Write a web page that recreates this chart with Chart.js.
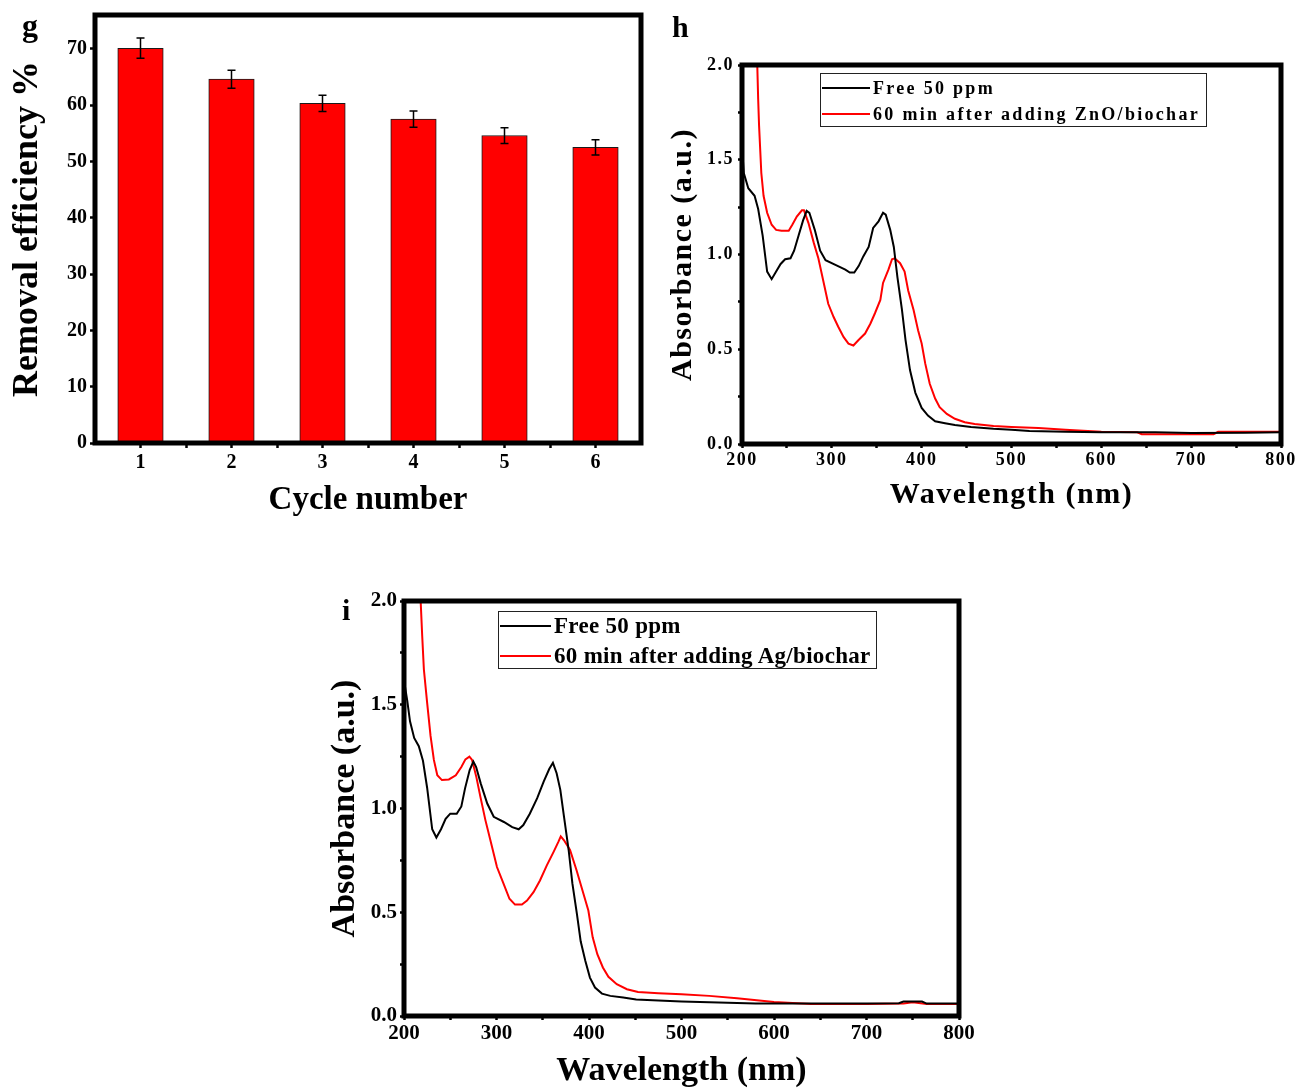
<!DOCTYPE html>
<html><head><meta charset="utf-8">
<script src="https://cdn.jsdelivr.net/npm/chart.js@4.4.1/dist/chart.umd.min.js"></script>
<style>
html,body{margin:0;padding:0;background:#fff;width:1300px;height:1088px;overflow:hidden;position:relative;font-family:"Liberation Serif","Times New Roman",serif;}
canvas{position:absolute;}
.lbl{position:absolute;font-weight:bold;line-height:1;color:#000;font-family:"Liberation Serif",serif;}
.lgbox{position:absolute;border:1px solid #222;box-sizing:border-box;background:#fff;}
.lgrow{position:absolute;display:flex;align-items:center;white-space:nowrap;font-weight:bold;color:#000;font-family:"Liberation Serif",serif;}
.lgsw{display:inline-block;height:2px;}
</style></head><body>
<canvas id="cg" width="660" height="530" style="left:0;top:0"></canvas>
<canvas id="ch" width="640" height="530" style="left:660px;top:0"></canvas>
<canvas id="ci" width="680" height="528" style="left:320px;top:560px"></canvas>
<div class="lbl" style="left:22px;top:9px;font-size:32px">g</div>
<div class="lbl" style="left:672px;top:12px;font-size:30px">h</div>
<div class="lbl" style="left:342px;top:595px;font-size:30px">i</div>
<script>
// ---------- panel g data ----------
const cycles = [1, 2, 3, 4, 5, 6];
const removalEfficiency = [70.1, 64.6, 60.3, 57.5, 54.6, 52.5];
const removalError = [1.8, 1.6, 1.45, 1.45, 1.4, 1.35];
const cycleTickValues = [1, 1.5, 2, 2.5, 3, 3.5, 4, 4.5, 5, 5.5, 6];
const cycleTickLabels = ['1', '', '2', '', '3', '', '4', '', '5', '', '6'];
const effTickValues = [0, 10, 20, 30, 40, 50, 60, 70];
const effTickLabels = ['0', '10', '20', '30', '40', '50', '60', '70'];

// ---------- shared spectrum ticks ----------
const waveTickValues = [200, 250, 300, 350, 400, 450, 500, 550, 600, 650, 700, 750, 800];
const waveTickLabels = ['200', '', '300', '', '400', '', '500', '', '600', '', '700', '', '800'];
const absTickValues = [0, 0.25, 0.5, 0.75, 1.0, 1.25, 1.5, 1.75, 2.0];
const absTickLabels = ['0.0', '', '0.5', '', '1.0', '', '1.5', '', '2.0'];

// ---------- panel h data ----------
const hSeriesLabels = ['Free 50 ppm', '60 min after adding ZnO/biochar'];
const hFreeWave = [200,202,207,214,218,223,228,233,238,243,248,254,258,263,268,272,275,281,287,293,304,315,320,325,330,335,341,346,352,357,360,365,369,373,378,382,387,393,400,407,415,426,437,455,480,500,520,560,600,660,700,760,800];
const hFreeAbs = [1.57,1.43,1.35,1.31,1.24,1.10,0.91,0.87,0.91,0.95,0.975,0.98,1.02,1.10,1.18,1.23,1.22,1.13,1.02,0.97,0.945,0.92,0.905,0.905,0.94,0.99,1.04,1.14,1.175,1.22,1.21,1.13,1.04,0.88,0.71,0.55,0.39,0.27,0.19,0.15,0.12,0.11,0.10,0.09,0.08,0.075,0.068,0.065,0.062,0.062,0.058,0.06,0.062];
const hZnOWave = [217,218,219,221.5,224,228,233,238,244,252,256,261,266.7,269,274,280,285,291,296,302,307,313,318.5,324,330,337,343,348,354,357,363,367,370,376,381,385,391,396,400,404,409,415,420,428,437,448,459,480,500,530,560,600,640,645,725,730,800];
const hZnOAbs = [2.0,1.82,1.68,1.43,1.31,1.22,1.157,1.13,1.125,1.125,1.157,1.20,1.233,1.233,1.166,1.06,0.98,0.85,0.74,0.67,0.62,0.565,0.53,0.52,0.55,0.583,0.636,0.69,0.76,0.85,0.92,0.975,0.98,0.954,0.91,0.81,0.707,0.60,0.53,0.424,0.318,0.24,0.194,0.159,0.133,0.115,0.106,0.095,0.09,0.085,0.075,0.065,0.062,0.052,0.052,0.064,0.064];

// ---------- panel i data ----------
const iSeriesLabels = ['Free 50 ppm', '60 min after adding Ag/biochar'];
const iFreeWave = [201,203.5,206.5,211,216,220.5,225,230.5,235,240,245,250,257,262,266,271,275,278,283,290,297,308,317,324,329,336,344,351,357,361,365,369,373,378,382,387,391,396,401,406.5,414,423,437,451,475,500,540,580,620,700,735,740,760,765,800];
const iFreeAbs = [1.59,1.52,1.42,1.34,1.30,1.23,1.10,0.90,0.86,0.90,0.95,0.975,0.975,1.01,1.097,1.185,1.226,1.20,1.12,1.024,0.96,0.935,0.91,0.90,0.92,0.975,1.05,1.13,1.19,1.22,1.17,1.09,0.96,0.80,0.64,0.49,0.36,0.266,0.185,0.137,0.108,0.097,0.089,0.08,0.075,0.07,0.065,0.06,0.06,0.06,0.062,0.07,0.07,0.06,0.06];
const iAgWave = [218,219.7,221.5,225,228.7,232.3,236,241,248.5,256,262,266.4,270.7,273.6,278.3,282.6,288,293.4,300.5,307.7,314,320,327.5,333,340,347,354.4,361.6,367,369.5,373,379.5,386.7,394,399.3,404,409,415,421,430,441,453,475,500,530,560,600,640,700,740,750,765,800];
const iAgAbs = [2.0,1.83,1.67,1.51,1.35,1.234,1.16,1.137,1.14,1.16,1.20,1.237,1.25,1.234,1.15,1.056,0.944,0.847,0.718,0.637,0.565,0.537,0.537,0.556,0.597,0.653,0.726,0.79,0.84,0.866,0.847,0.80,0.70,0.589,0.508,0.379,0.298,0.234,0.189,0.153,0.129,0.116,0.11,0.105,0.097,0.085,0.068,0.058,0.058,0.06,0.066,0.058,0.058];

const SERIF = '"Liberation Serif", "Times New Roman", serif';
const BLACK = '#000000', RED = '#ff0000';

const framePlugin = {
  id: 'frame',
  afterDatasetsDraw(chart) {
    const {ctx, chartArea: a} = chart;
    ctx.save();
    ctx.lineWidth = 5;
    ctx.strokeStyle = '#000';
    ctx.strokeRect(a.left, a.top, a.right - a.left, a.bottom - a.top);
    ctx.restore();
  }
};

function spacingPlugin(px) {
  return { id: 'spacing', beforeDraw(chart) { try { chart.ctx.letterSpacing = px; } catch (e) {} } };
}

const errorBarPlugin = {
  id: 'errbars',
  afterDatasetsDraw(chart) {
    const {ctx, scales: {x, y}} = chart;
    ctx.save();
    ctx.strokeStyle = '#000';
    ctx.lineWidth = 1.5;
    cycles.forEach((c, i) => {
      const px = x.getPixelForValue(c);
      const top = y.getPixelForValue(removalEfficiency[i] + removalError[i]);
      const bot = y.getPixelForValue(removalEfficiency[i] - removalError[i]);
      ctx.beginPath();
      ctx.moveTo(px, top); ctx.lineTo(px, bot);
      ctx.moveTo(px - 4, top); ctx.lineTo(px + 4, top);
      ctx.moveTo(px - 4, bot); ctx.lineTo(px + 4, bot);
      ctx.stroke();
    });
    ctx.restore();
  }
};

function tickGrid(len) {
  return { drawOnChartArea: false, drawTicks: true, tickLength: len, tickWidth: 2.5, tickColor: '#000', color: '#000', offset: false };
}

// ---------- chart g ----------
new Chart(document.getElementById('cg'), {
  type: 'bar',
  data: {
    datasets: [{
      label: 'Removal efficiency',
      data: cycles.map((c, i) => ({x: c, y: removalEfficiency[i]})),
      backgroundColor: RED,
      borderColor: '#1a1a1a',
      borderWidth: 1,
      categoryPercentage: 1,
      barPercentage: 1
    }]
  },
  options: {
    responsive: false, animation: false, events: [],
    layout: {padding: {top: 14, right: 19, left: 0, bottom: 0}},
    plugins: {legend: {display: false}, tooltip: {enabled: false}},
    scales: {
      x: {
        type: 'linear', min: 0.5, max: 6.5, offset: false,
        afterBuildTicks: s => { s.ticks = cycleTickValues.map(v => ({value: v})); },
        afterFit: s => { s.height = 87; },
        ticks: {callback: (v, i) => cycleTickLabels[i], autoSkip: false, maxRotation: 0, color: '#000', padding: 3, font: {family: SERIF, size: 20, weight: 'bold'}},
        grid: tickGrid(5), border: {display: false},
        title: {display: true, text: 'Cycle number', color: '#000', font: {family: SERIF, size: 33, weight: 'bold', lineHeight: 1}, padding: {top: 0, bottom: 13}}
      },
      y: {
        type: 'linear', min: 0, max: 76,
        afterBuildTicks: s => { s.ticks = effTickValues.map(v => ({value: v})); },
        afterFit: s => { s.width = 95; },
        ticks: {callback: (v, i) => effTickLabels[i], autoSkip: false, color: '#000', padding: 3, font: {family: SERIF, size: 20, weight: 'bold'}},
        grid: tickGrid(5), border: {display: false},
        title: {display: true, text: 'Removal efficiency %', color: '#000', font: {family: SERIF, size: 36, weight: 'bold', lineHeight: 1}, padding: {top: 10, bottom: 0}}
      }
    }
  },
  plugins: [errorBarPlugin, framePlugin]
});

// ---------- spectrum charts ----------
function spectrumChart(id, g) {
  return new Chart(document.getElementById(id), {
    type: 'line',
    data: {
      datasets: [
        {label: g.labels[0], data: g.x1.map((x, i) => ({x, y: g.y1[i]})), borderColor: BLACK, borderWidth: 2, pointRadius: 0, tension: 0, fill: false},
        {label: g.labels[1], data: g.x2.map((x, i) => ({x, y: g.y2[i]})), borderColor: RED, borderWidth: 2, pointRadius: 0, tension: 0, fill: false}
      ]
    },
    options: {
      responsive: false, animation: false, events: [],
      layout: {padding: {top: g.padTop, right: g.padRight, left: 0, bottom: 0}},
      plugins: {legend: {display: false}, tooltip: {enabled: false}},
      scales: {
        x: {
          type: 'linear', min: 200, max: 800,
          afterBuildTicks: s => { s.ticks = waveTickValues.map(v => ({value: v})); },
          afterFit: s => { s.height = g.xH; },
          ticks: {callback: (v, i) => waveTickLabels[i], autoSkip: false, maxRotation: 0, color: '#000', padding: g.xTickPad, font: {family: SERIF, size: g.tickSize, weight: 'bold'}},
          grid: tickGrid(4), border: {display: false},
          title: {display: true, text: 'Wavelength (nm)', color: '#000', font: {family: SERIF, size: g.titleSize, weight: 'bold', lineHeight: 1}, padding: {top: 0, bottom: g.xTitlePad}}
        },
        y: {
          type: 'linear', min: 0, max: 2,
          afterBuildTicks: s => { s.ticks = absTickValues.map(v => ({value: v})); },
          afterFit: s => { s.width = g.yW; },
          ticks: {callback: (v, i) => absTickLabels[i], autoSkip: false, color: '#000', padding: g.yTickPad, font: {family: SERIF, size: g.tickSize, weight: 'bold'}},
          grid: tickGrid(4), border: {display: false},
          title: {display: true, text: 'Absorbance (a.u.)', color: '#000', font: {family: SERIF, size: g.titleSize, weight: 'bold', lineHeight: 1}, padding: {top: g.yTitlePad, bottom: 0}}
        }
      }
    },
    plugins: [spacingPlugin(g.spacing), framePlugin]
  });
}

spectrumChart('ch', {
  labels: hSeriesLabels, x1: hFreeWave, y1: hFreeAbs, x2: hZnOWave, y2: hZnOAbs,
  padTop: 65, padRight: 19, xH: 86, yW: 82, tickSize: 18, titleSize: 30,
  xTickPad: 2, yTickPad: 4, xTitlePad: 20, yTitlePad: 8, spacing: '1.5px'
});
spectrumChart('ci', {
  labels: iSeriesLabels, x1: iFreeWave, y1: iFreeAbs, x2: iAgWave, y2: iAgAbs,
  padTop: 41, padRight: 41, xH: 72, yW: 84, tickSize: 21, titleSize: 34,
  xTickPad: 1, yTickPad: 3, xTitlePad: 0, yTitlePad: 8, spacing: '0px'
});

// ---------- HTML legends built from series labels ----------
function legend(labels, colors, box, rows, sw, font, spacing) {
  const b = document.createElement('div');
  b.className = 'lgbox';
  Object.assign(b.style, {left: box[0] + 'px', top: box[1] + 'px', width: box[2] + 'px', height: box[3] + 'px'});
  document.body.appendChild(b);
  labels.forEach((t, i) => {
    const r = document.createElement('div');
    r.className = 'lgrow';
    Object.assign(r.style, {left: sw[0] + 'px', top: (rows[i] - 15) + 'px', height: '30px', fontSize: font + 'px', letterSpacing: spacing});
    const s = document.createElement('span');
    s.className = 'lgsw';
    Object.assign(s.style, {width: sw[1] + 'px', background: colors[i], marginRight: '3px'});
    r.appendChild(s);
    r.appendChild(document.createTextNode(t));
    document.body.appendChild(r);
  });
}
legend(hSeriesLabels, [BLACK, RED], [820, 73, 387, 54], [88, 114], [822, 48], 18, '2.3px');
legend(iSeriesLabels, [BLACK, RED], [498, 611, 379, 58], [626, 656], [500, 51], 23, '0.3px');
</script>
</body></html>
